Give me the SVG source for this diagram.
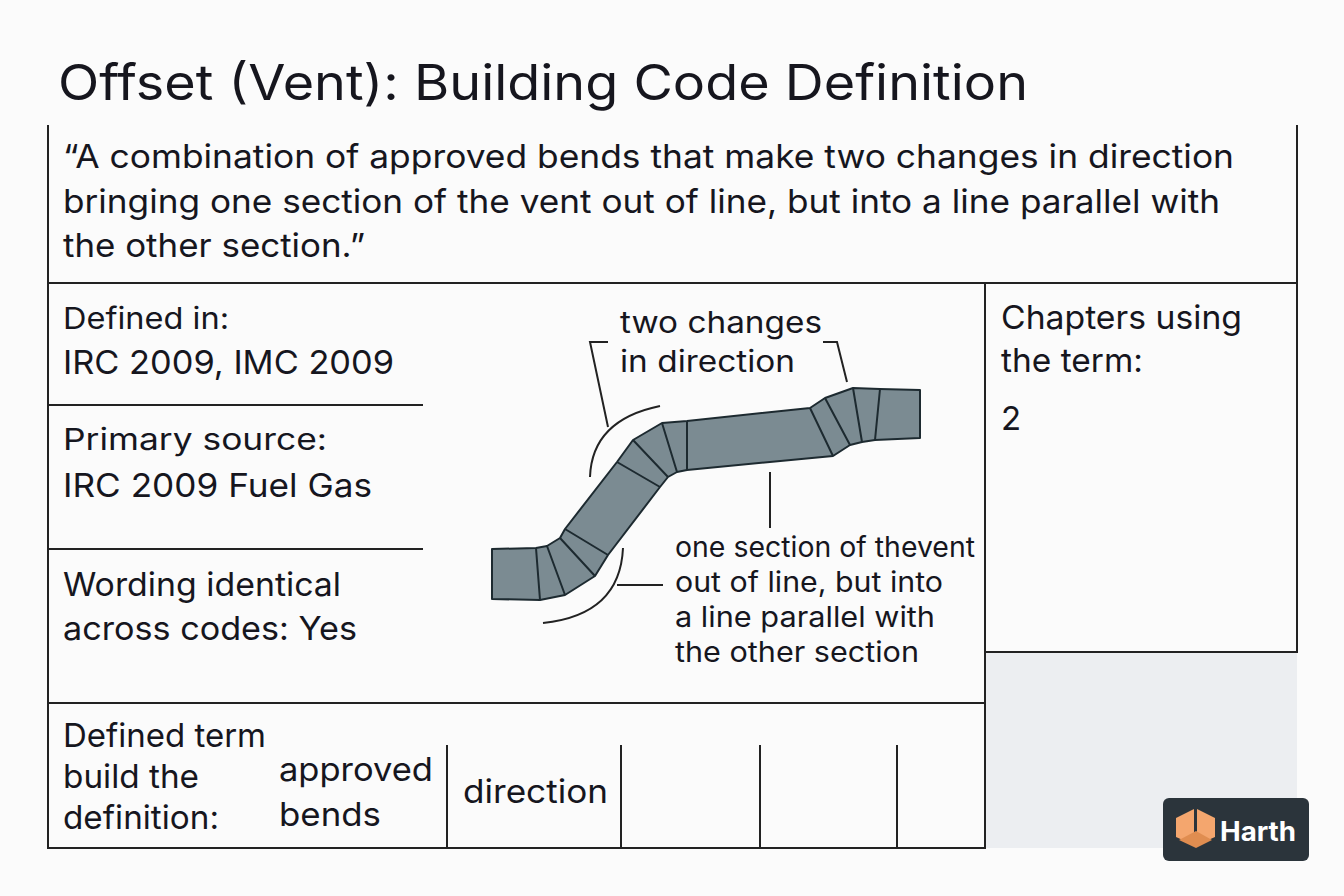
<svg xmlns="http://www.w3.org/2000/svg" width="1344" height="896" viewBox="0 0 1344 896">
<style>
text{font-family:Inter,Roboto,"Liberation Sans",sans-serif;fill:#16161e}
.b{stroke:#222;stroke-width:2;fill:none}
.p{fill:#7b8b92;stroke:#1d2a30;stroke-width:2;stroke-linejoin:round}
.j{stroke:#1d2a30;stroke-width:2}
.t{font-size:33px}.c{font-size:30px}.s{font-size:28px}
</style>
<rect width="1344" height="896" fill="#fbfbfb"/>
<rect x="985" y="652" width="312" height="196" fill="#eceef1"/>
<text x="58" y="100" font-size="49" textLength="970" lengthAdjust="spacingAndGlyphs">Offset (Vent): Building Code Definition</text>
<g id="frame" class="b">
<path d="M48 125V848H985V283M1297 125V652H985M48 283H1297M48 405H423M48 549H423M48 703H985M447 745V848M621 745V848M760 745V848M897 745V848"/>
</g>
<g id="quote"><text class="t" x="63" y="168" textLength="1171" lengthAdjust="spacingAndGlyphs">“A combination of approved bends that make two changes in direction</text>
<text class="t" x="63" y="213" textLength="1157" lengthAdjust="spacingAndGlyphs">bringing one section of the vent out of line, but into a line parallel with</text>
<text class="t" x="63" y="257" textLength="302" lengthAdjust="spacingAndGlyphs">the other section.”</text></g>
<g id="defined"><text class="c" x="63" y="329" textLength="166" lengthAdjust="spacingAndGlyphs">Defined in:</text><text class="t" x="63" y="374" textLength="331" lengthAdjust="spacingAndGlyphs">IRC 2009, IMC 2009</text></g>
<g id="source"><text class="c" x="63" y="450" textLength="264" lengthAdjust="spacingAndGlyphs">Primary source:</text><text class="t" x="63" y="497" textLength="309" lengthAdjust="spacingAndGlyphs">IRC 2009 Fuel Gas</text></g>
<g id="wording"><text class="t" x="63" y="596" textLength="278" lengthAdjust="spacingAndGlyphs">Wording identical</text><text class="t" x="63" y="640" textLength="294" lengthAdjust="spacingAndGlyphs">across codes: Yes</text></g>
<g id="terms"><text class="t" x="63" y="747" textLength="203" lengthAdjust="spacingAndGlyphs">Defined term</text><text class="t" x="63" y="788" textLength="136" lengthAdjust="spacingAndGlyphs">build the</text><text class="t" x="63" y="829" textLength="156" lengthAdjust="spacingAndGlyphs">definition:</text>
<text class="t" x="279" y="781" textLength="154" lengthAdjust="spacingAndGlyphs">approved</text><text class="t" x="279" y="826" textLength="102" lengthAdjust="spacingAndGlyphs">bends</text><text class="t" x="463" y="803" textLength="145" lengthAdjust="spacingAndGlyphs">direction</text></g>
<g id="chapters"><text class="t" x="1001" y="329" textLength="241" lengthAdjust="spacingAndGlyphs">Chapters using</text><text class="t" x="1001" y="372" textLength="142" lengthAdjust="spacingAndGlyphs">the term:</text><text class="t" x="1001" y="430">2</text></g>
<g id="pipe">
<path class="p" d="M492 549L536 548L547 546L560 538L565 529L617 462L633 440L662 423L687 421L810 408L825 398L853 388L880 389L920 390L920 438L875 440L862 442L850 445L833 456L687 470L677 472L668 477L660 487L608 555L595 576L565 595L540 600L492 599Z"/>
<path class="j" d="M536 548L540 600M547 546L565 595M560 538L595 576M565 529L608 555M617 462L660 487M633 440L668 477M662 423L677 472M687 421L687 470M810 408L833 456M825 398L850 445M853 388L862 442M880 389L875 440"/>
</g>
<g id="connectors" class="b">
<path d="M590 477Q592 420 660 406"/>
<path d="M623 548Q620 615 543 623"/>
<path d="M608 342H590L608 427M823 342H837L847 382M770 472V528M617 585H663"/>
</g>
<g id="labels"><text class="c" x="620" y="333" textLength="202" lengthAdjust="spacingAndGlyphs">two changes</text><text class="c" x="620" y="372" textLength="175" lengthAdjust="spacingAndGlyphs">in direction</text>
<text class="s" x="675" y="557" textLength="300" lengthAdjust="spacingAndGlyphs">one section of thevent</text><text class="s" x="675" y="592" textLength="268" lengthAdjust="spacingAndGlyphs">out of line, but into</text><text class="s" x="675" y="627" textLength="260" lengthAdjust="spacingAndGlyphs">a line parallel with</text><text class="s" x="675" y="662" textLength="244" lengthAdjust="spacingAndGlyphs">the other section</text></g>
<g id="logo"><rect x="1163" y="798" width="146" height="63" rx="6" fill="#2b343b"/>
<path d="M1176 818L1194 809V845L1176 837Z" fill="#f4a66e"/><path d="M1197 809L1215 818V837L1197 845Z" fill="#f4a66e"/><path d="M1179 840L1196 831L1212 840L1196 848Z" fill="#e08d50"/>
<text x="1220" y="841" font-size="27" font-weight="bold" textLength="76" lengthAdjust="spacingAndGlyphs" style="fill:#fff">Harth</text></g>
</svg>
